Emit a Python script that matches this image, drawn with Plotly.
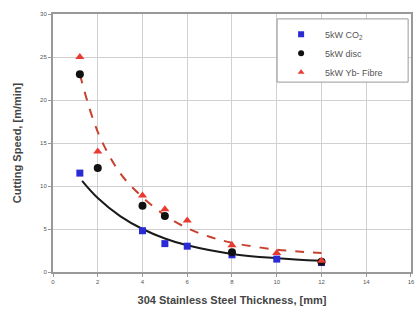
import plotly.graph_objects as go

# Measured data
co2_x = [1.2, 4, 5, 6, 8, 10, 12]
co2_y = [11.5, 4.8, 3.3, 3.0, 2.0, 1.5, 1.1]
disc_x = [1.2, 2, 4, 5, 8, 12]
disc_y = [23.0, 12.1, 7.7, 6.5, 2.3, 1.2]
fibre_x = [1.2, 2, 4, 5, 6, 8, 10, 12]
fibre_y = [25.0, 14.0, 8.9, 7.3, 6.0, 3.1, 2.2, 1.3]

# Trend lines
trend_co2_x = [1.3, 2, 3, 4, 5, 6, 8, 10, 12]
trend_co2_y = [10.6, 8.6, 6.5, 5.0, 3.9, 3.1, 2.1, 1.6, 1.3]
trend_fib_x = [1.2, 2, 3, 4, 5, 6, 7, 8, 10, 12]
trend_fib_y = [23.0, 16.3, 11.5, 8.7, 6.6, 5.1, 4.1, 3.4, 2.6, 2.2]

x_ticks = [0, 2, 4, 6, 8, 10, 12, 14, 16]
y_ticks = [0, 5, 10, 15, 20, 25, 30]

fig = go.Figure()
fig.add_trace(go.Scatter(x=trend_co2_x, y=trend_co2_y, mode="lines",
                         line=dict(color="#1a1a1a", width=2, shape="spline"),
                         showlegend=False, hoverinfo="skip"))
fig.add_trace(go.Scatter(x=trend_fib_x, y=trend_fib_y, mode="lines",
                         line=dict(color="#c8402e", width=2, dash="dash", shape="spline"),
                         showlegend=False, hoverinfo="skip"))
fig.add_trace(go.Scatter(x=co2_x, y=co2_y, mode="markers", showlegend=False,
                         marker=dict(symbol="square", color="#2b2bd6", size=7)))
fig.add_trace(go.Scatter(x=disc_x, y=disc_y, mode="markers", showlegend=False,
                         marker=dict(symbol="circle", color="#111111", size=8)))
fig.add_trace(go.Scatter(x=fibre_x, y=fibre_y, mode="markers", showlegend=False,
                         marker=dict(symbol="triangle-up", color="#e83a30", size=8)))

# legend entries with smaller symbols, as in the reference
legend_items = [("5kW CO<sub>2</sub>", "square", "#2b2bd6"),
                ("5kW disc", "circle", "#111111"),
                ("5kW Yb- Fibre", "triangle-up", "#e83a30")]
for name, sym, col in legend_items:
    fig.add_trace(go.Scatter(x=[None], y=[None], mode="markers", name=name,
                             marker=dict(symbol=sym, color=col, size=6)))

# legend frame
fig.add_shape(type="rect", xref="paper", yref="paper",
              x0=0.626, x1=0.992, y0=0.736, y1=0.981,
              fillcolor="white", line=dict(color="#999999", width=1), layer="above")

fig.update_layout(
    width=417, height=323,
    margin=dict(l=53, r=6, t=14, b=51, autoexpand=False),
    paper_bgcolor="white", plot_bgcolor="white",
    font=dict(family="Liberation Sans, Arial, sans-serif", color="#444444"),
    legend=dict(x=0.626, y=0.978, xanchor="left", yanchor="top",
                bgcolor="rgba(0,0,0,0)", borderwidth=0,
                font=dict(size=9, color="#555555"),
                tracegroupgap=0, itemsizing="trace", itemwidth=38),
    xaxis=dict(range=[0, 16.001], tickvals=x_ticks, ticktext=[str(v) for v in x_ticks],
               showgrid=True, gridcolor="#d0d0d0", gridwidth=1,
               showline=True, linecolor="#999999", linewidth=2, mirror=True,
               ticks="outside", ticklen=3, tickcolor="#999999",
               ticklabeloverflow="allow",
               tickfont=dict(size=6, color="#555555"), zeroline=False,
               title=dict(text="<b>304 Stainless Steel Thickness, [mm]</b>",
                          font=dict(size=11, color="#444444"), standoff=12)),
    yaxis=dict(range=[0, 30.001], tickvals=y_ticks, ticktext=[str(v) for v in y_ticks],
               showgrid=True, gridcolor="#d0d0d0", gridwidth=1,
               showline=True, linecolor="#999999", linewidth=2, mirror=True,
               ticks="outside", ticklen=3, tickcolor="#999999",
               tickfont=dict(size=6, color="#555555"), zeroline=False,
               title=dict(text="<b>Cutting Speed, [m/min]</b>",
                          font=dict(size=11, color="#444444"), standoff=16)),
)

fig.write_html("out.html", config={"displayModeBar": False},
               post_script="document.body.style.margin='0';document.body.style.overflow='hidden';")
